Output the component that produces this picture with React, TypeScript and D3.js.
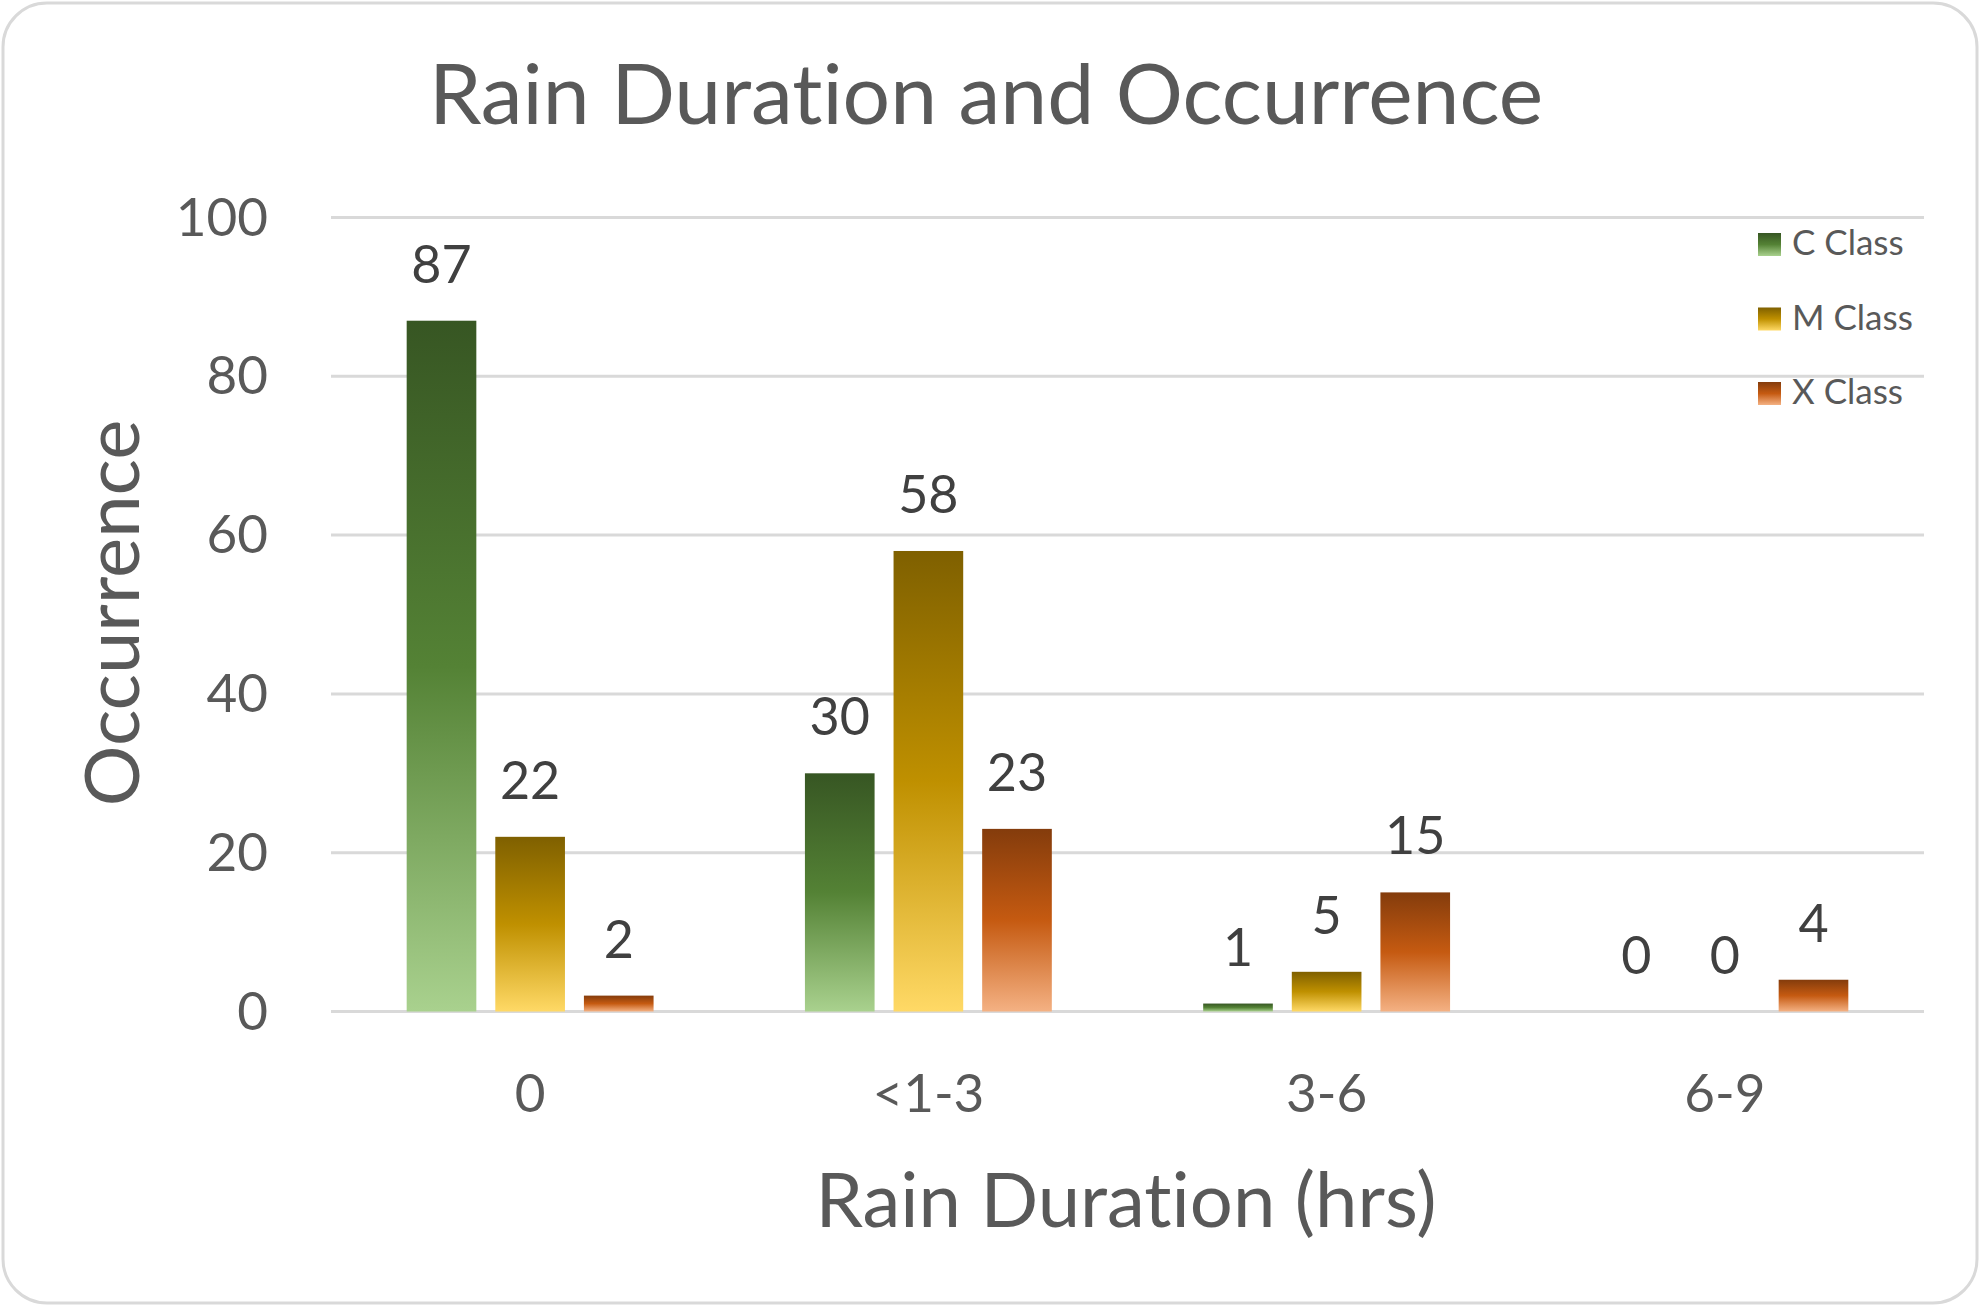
import { useEffect, useRef } from 'react'
import * as d3 from 'd3'

const categories = ['0', '<1-3', '3-6', '6-9']
const seriesNames = ['C Class', 'M Class', 'X Class']
const cClass = [87, 30, 1, 0]
const mClass = [22, 58, 5, 0]
const xClass = [2, 23, 15, 4]
const yTicks = [0, 20, 40, 60, 80, 100]

// top / middle / bottom stops of each series gradient
const gradients = [
  ['#375623', '#548235', '#a9d18e'],
  ['#7f6000', '#bf9000', '#ffd966'],
  ['#843c0c', '#c55a11', '#f4b183'],
]

const W = 1980
const H = 1310
const FONT = 'Lato, "Open Sans", sans-serif'

export default function App() {
  const svgRef = useRef<SVGSVGElement>(null)

  useEffect(() => {
    document.body.style.margin = '0'
    if (!svgRef.current) return
    const svg = d3.select(svgRef.current)
    svg.selectAll('*').remove()

    const values = [cClass, mClass, xClass]
    const margin = { left: 331, right: W - 1924, top: 217.5, bottom: H - 1011.5 }

    const x0 = d3.scaleBand<string>().domain(categories).range([margin.left, W - margin.right]).padding(0)
    const x1 = d3.scaleBand<string>().domain(seriesNames).range([0, x0.bandwidth()])
      .paddingInner(0.214).paddingOuter(0.854)
    const y = d3.scaleLinear().domain([0, 100]).range([H - margin.bottom, margin.top])

    const defs = svg.append('defs')
    gradients.forEach((stops, i) => {
      const lg = defs.append('linearGradient').attr('id', `grad${i}`)
        .attr('x1', 0).attr('y1', 0).attr('x2', 0).attr('y2', 1)
      stops.forEach((c, j) => lg.append('stop').attr('offset', j / 2).attr('stop-color', c))
    })

    // card
    svg.append('rect')
      .attr('x', 3).attr('y', 3).attr('width', W - 6).attr('height', H - 10)
      .attr('rx', 44).attr('fill', '#fff').attr('stroke', '#d9d9d9').attr('stroke-width', 3)

    const root = svg.append('g').style('font-variant-ligatures', 'none')

    // title
    root.append('text')
      .attr('x', 986).attr('y', 124)
      .attr('text-anchor', 'middle')
      .attr('font-family', FONT).attr('font-size', 84)
      .attr('fill', '#595959')
      .text('Rain Duration and Occurrence')

    // gridlines
    root.append('g').selectAll('line').data(yTicks).join('line')
      .attr('x1', margin.left).attr('x2', W - margin.right)
      .attr('y1', d => y(d)).attr('y2', d => y(d))
      .attr('stroke', '#d9d9d9').attr('stroke-width', 3)

    // y tick labels
    root.append('g').selectAll('text').data(yTicks).join('text')
      .attr('x', 268).attr('y', d => y(d) + 18)
      .attr('text-anchor', 'end')
      .attr('font-family', FONT).attr('font-size', 53)
      .attr('fill', '#595959')
      .text(d => d)

    // x tick labels
    root.append('g').selectAll('text').data(categories).join('text')
      .attr('x', d => x0(d)! + x0.bandwidth() / 2).attr('y', 1112)
      .attr('text-anchor', 'middle')
      .attr('font-family', FONT).attr('font-size', 53)
      .attr('fill', '#595959')
      .text(d => d)

    // bars + value labels
    seriesNames.forEach((name, si) => {
      const g = root.append('g')
      const rows = categories.map((c, ci) => ({ c, v: values[si][ci] }))
      g.selectAll('rect').data(rows.filter(d => d.v > 0)).join('rect')
        .attr('x', d => x0(d.c)! + x1(name)!)
        .attr('y', d => y(d.v))
        .attr('width', x1.bandwidth())
        .attr('height', d => y(0) - y(d.v))
        .attr('fill', `url(#grad${si})`)
      g.selectAll('text').data(rows).join('text')
        .attr('x', d => x0(d.c)! + x1(name)! + x1.bandwidth() / 2)
        .attr('y', d => y(d.v) - 38)
        .attr('text-anchor', 'middle')
        .attr('font-family', FONT).attr('font-size', 52)
        .attr('fill', '#404040')
        .text(d => d.v)
    })

    // axis titles
    root.append('text')
      .attr('transform', `translate(139,613) rotate(-90)`)
      .attr('text-anchor', 'middle')
      .attr('font-family', FONT).attr('font-size', 76)
      .attr('fill', '#595959')
      .text('Occurrence')
    root.append('text')
      .attr('x', 1126).attr('y', 1227)
      .attr('text-anchor', 'middle')
      .attr('font-family', FONT).attr('font-size', 76)
      .attr('fill', '#595959')
      .text('Rain Duration (hrs)')

    // legend
    const lg = root.append('g').attr('transform', 'translate(1758,233)')
    seriesNames.forEach((name, i) => {
      const row = lg.append('g').attr('transform', `translate(0,${i * 74.5})`)
      row.append('rect').attr('width', 23).attr('height', 23).attr('fill', `url(#grad${i})`)
      row.append('text')
        .attr('x', 34).attr('y', 22)
        .attr('font-family', FONT).attr('font-size', 35)
        .attr('fill', '#595959')
        .text(name)
    })
  }, [])

  return <svg ref={svgRef} width={W} height={H} style={{ display: 'block' }} />
}
